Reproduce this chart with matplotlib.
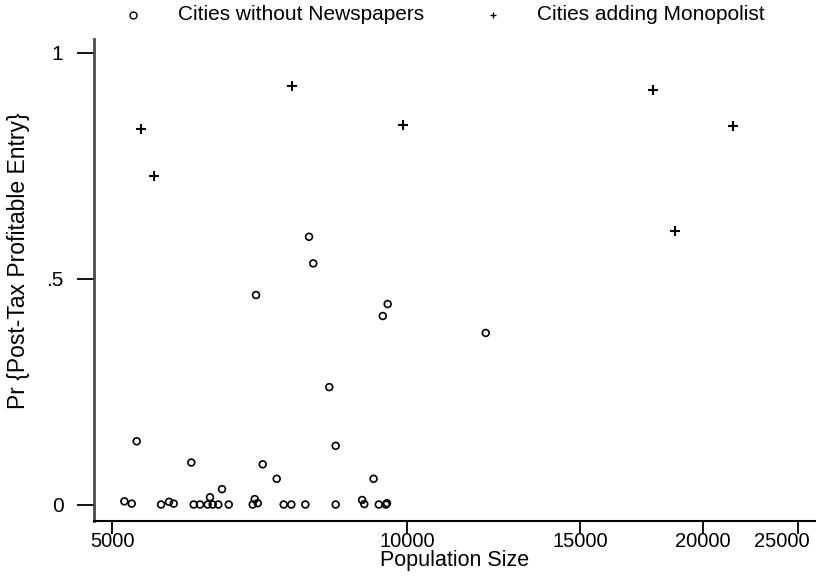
import matplotlib
matplotlib.use("Agg")
import matplotlib.pyplot as plt
import matplotlib.transforms as mtransforms
from matplotlib.lines import Line2D
from matplotlib.ticker import FixedLocator, FixedFormatter, NullLocator

plt.rcParams['font.family'] = ['Liberation Sans', 'DejaVu Sans']

# cities with no newspaper: population, predicted probability of profitable entry
pop_none = [7940, 8020, 7011, 9550, 9441, 12022, 8327, 5298, 8453, 6023,
            7122, 7360, 9239, 6473, 6293, 6990, 8994, 5147, 5716,
            5237, 5610, 5779, 6057, 6147, 6259, 6333, 6417, 6576, 6957,
            7039, 7482, 7617, 7872, 8453, 9040, 9353, 9512, 9535]
pr_none = [0.593, 0.534, 0.464, 0.444, 0.4175, 0.380, 0.260, 0.140, 0.130, 0.093,
           0.089, 0.057, 0.057, 0.034, 0.016, 0.012, 0.010, 0.007, 0.006,
           0.002, 0.0, 0.002, 0.0, 0.0, 0.0, 0.0, 0.0, 0.0, 0.0,
           0.003, 0.0, 0.0, 0.0, 0.0, 0.001, 0.0, 0.0, 0.003]

# cities that gained a monopoly paper
pop_mono = [5352, 5518, 7629, 9904, 17803, 21486, 18750]
pr_mono = [0.832, 0.728, 0.927, 0.8405, 0.917, 0.838, 0.606]

xticks = [5000, 10000, 15000, 20000, 25000]
yticks = [0, 0.5, 1]
ytick_labels = ['0', '.5', '1']

fig = plt.figure(figsize=(8.16, 5.77), dpi=100)
ax = fig.add_axes([94 / 816, 56 / 577, 722 / 816, 482 / 577])

ax.scatter(pop_none, pr_none, marker='o', s=24, facecolors='none',
           edgecolors='black', linewidths=1.2, zorder=3)
ax.scatter(pop_mono, pr_mono, marker='+', s=42, color='black',
           linewidths=1.5, zorder=3)

ax.set_xscale('log')
ax.set_xlim(4793, 26102)
ax.set_ylim(-0.0365, 1.031)

ax.xaxis.set_major_locator(FixedLocator(xticks))
ax.xaxis.set_major_formatter(FixedFormatter([str(v) for v in xticks]))
ax.xaxis.set_minor_locator(NullLocator())
ax.set_yticks(yticks)
ax.set_yticklabels(ytick_labels)

ax.tick_params(axis='x', length=9, width=1.3, pad=-1, labelsize=14.5)
ax.tick_params(axis='y', length=12, width=1.3, pad=10, labelsize=15)

# last x label is pulled left so it stays inside the figure
fig.canvas.draw()
last = ax.get_xticklabels()[-1]
last.set_transform(last.get_transform() +
                   mtransforms.ScaledTranslation(-0.16, 0, fig.dpi_scale_trans))

for side in ['top', 'right']:
    ax.spines[side].set_visible(False)
ax.spines['left'].set_linewidth(2)
ax.spines['left'].set_color('#4a4a4a')
ax.spines['bottom'].set_linewidth(1.5)

ax.set_xlabel('Population Size', fontsize=15.5)
ax.xaxis.set_label_coords(0.5, -0.060)
ax.set_ylabel('Pr {Post-Tax Profitable Entry}', fontsize=16.5)
ax.yaxis.set_label_coords(-0.088, 0.54)

# legend row above the plot
fig.add_artist(Line2D([133 / 816], [1 - 15 / 577], marker='o', markersize=5,
                      markerfacecolor='none', markeredgecolor='black',
                      markeredgewidth=1.0, linestyle='none',
                      transform=fig.transFigure))
fig.text(178 / 816, 1 - 14 / 577, 'Cities without Newspapers', fontsize=15,
         va='center', ha='left')
fig.add_artist(Line2D([493 / 816], [1 - 15 / 577], marker='+', markersize=5,
                      color='black', markeredgewidth=1.0, linestyle='none',
                      transform=fig.transFigure))
fig.text(537 / 816, 1 - 14 / 577, 'Cities adding Monopolist', fontsize=15,
         va='center', ha='left')

fig.savefig('out.png', dpi=100)
